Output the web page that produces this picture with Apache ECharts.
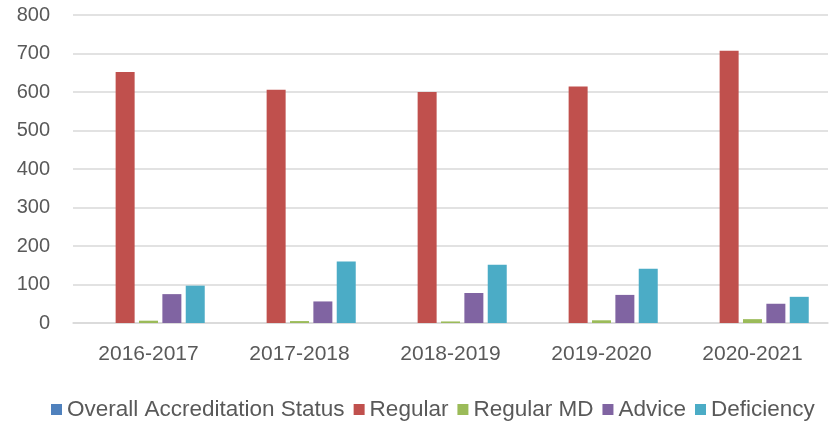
<!DOCTYPE html>
<html>
<head>
<meta charset="utf-8">
<script src="https://cdn.jsdelivr.net/npm/echarts@6/dist/echarts.min.js"></script>
<style>
html,body{margin:0;padding:0;background:#fff;}
#chart{width:830px;height:425px;}
</style>
</head>
<body>
<div id="chart"></div>
<script>
const categories = ['2016-2017', '2017-2018', '2018-2019', '2019-2020', '2020-2021'];
const overall = [0, 0, 0, 0, 0];
const regular = [652, 606, 600, 614, 707];
const regularMD = [6, 5, 4, 7, 10];
const advice = [75, 56, 78, 73, 50];
const deficiency = [97, 160, 151, 141, 68];

const seriesNames = ['Overall Accreditation Status', 'Regular', 'Regular MD', 'Advice', 'Deficiency'];
const seriesColors = ['#4F81BD', '#C0504D', '#9BBB59', '#8064A2', '#4BACC6'];
const seriesData = [overall, regular, regularMD, advice, deficiency];

const textColor = '#595959';
const fontFamily = '"Liberation Sans", Arial, sans-serif';

const chart = echarts.init(document.getElementById('chart'), null, {renderer: 'canvas'});
chart.setOption({
  animation: false,
  backgroundColor: '#ffffff',
  textStyle: {fontFamily: fontFamily},
  grid: {left: 73, right: 2, top: 15, bottom: 102, containLabel: false},
  legend: {
    top: 393,
    left: 46,
    itemWidth: 11,
    itemHeight: 11,
    itemGap: 9,
    icon: 'rect',
    textStyle: {color: textColor, fontSize: 22.5, fontFamily: fontFamily},
    data: seriesNames
  },
  xAxis: {
    type: 'category',
    data: categories,
    axisTick: {show: false},
    axisLine: {lineStyle: {color: '#d9d9d9', width: 1.5}},
    axisLabel: {color: textColor, fontSize: 21, margin: 21, fontFamily: fontFamily}
  },
  yAxis: {
    type: 'value',
    min: 0,
    max: 800,
    interval: 100,
    axisLine: {show: false},
    axisTick: {show: false},
    splitLine: {lineStyle: {color: '#d9d9d9', width: 1.5}},
    axisLabel: {color: textColor, fontSize: 20, margin: 23, fontFamily: fontFamily}
  },
  series: seriesNames.map((name, i) => ({
    name: name,
    type: 'bar',
    data: seriesData[i],
    barWidth: 19,
    barGap: '23%',
    itemStyle: {color: seriesColors[i]}
  }))
});
</script>
</body>
</html>
